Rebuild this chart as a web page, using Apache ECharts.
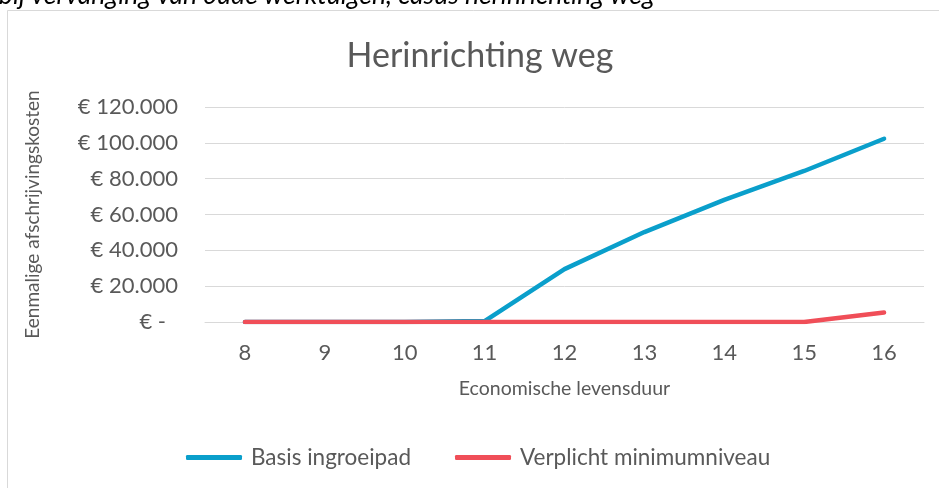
<!DOCTYPE html>
<html><head><meta charset="utf-8">
<script src="https://cdn.jsdelivr.net/npm/echarts@6/dist/echarts.min.js"></script>
<style>html,body{margin:0;padding:0;background:#fff}#c{width:939px;height:488px}</style>
</head><body><div id="c"></div>
<script>
const categories = ['8','9','10','11','12','13','14','15','16'];
const basisIngroeipad = [0, 0, 0, 500, 29500, 50200, 68200, 84300, 102300];
const verplichtMinimum = [0, 0, 0, 0, 0, 0, 0, 0, 5300];
const yTicks = [0, 20000, 40000, 60000, 80000, 100000, 120000];

const FONT = 'Lato, "Open Sans", sans-serif';
const chart = echarts.init(document.getElementById('c'));
function fmt(v){ if(v===0) return '{z|€ -}'; return '€ ' + v.toLocaleString('de-DE'); }
chart.setOption({
  animation:false,
  backgroundColor:'#fff',
  textStyle:{fontFamily:FONT},
  graphic:[
    {type:'rect', shape:{x:7.5,y:10.5,width:1000,height:1000}, style:{fill:'none',stroke:'#d9d9d9',lineWidth:1}, z:-1},
    {type:'text', left:-1, top:-18, style:{text:'bij vervanging van oude werktuigen, casus herinrichting weg', font:'italic 26.5px '+FONT, fill:'#000'}}
  ],
  title:{text:'Herinrichting weg', left:475, textAlign:'center', top:34, textStyle:{fontSize:34, fontWeight:'normal', color:'#595959', fontFamily:FONT}},
  legend:{top:446, left:186, padding:0, itemWidth:56, itemHeight:5, itemGap:44, icon:'roundRect',
    textStyle:{fontSize:22.5, color:'#595959', fontFamily:FONT, padding:[0,0,0,4]}, data:['Basis ingroeipad','Verplicht minimumniveau']},
  grid:{left:205, right:15, top:107, bottom:166},
  xAxis:{type:'category', data:categories, boundaryGap:true,
    name:'Economische levensduur', nameLocation:'middle', nameGap:57,
    nameTextStyle:{fontSize:19.5, color:'#595959'},
    axisLine:{show:true, lineStyle:{color:'#d9d9d9'}}, axisTick:{show:false},
    axisLabel:{fontSize:22, color:'#595959', margin:20}},
  yAxis:{type:'value', min:0, max:120000, interval:20000,
    name:'Eenmalige afschrijvingskosten', nameLocation:'middle', nameGap:163,
    nameTextStyle:{fontSize:19, color:'#595959'},
    axisLine:{show:false}, axisTick:{show:false},
    splitLine:{lineStyle:{color:'#d9d9d9', width:1}},
    axisLabel:{fontSize:22, color:'#595959', margin:27, formatter:fmt,
      rich:{z:{fontSize:22, color:'#595959', fontFamily:FONT, padding:[0,12,0,0]}}}},
  series:[
    {name:'Basis ingroeipad', type:'line', data:basisIngroeipad, symbol:'none', lineStyle:{width:4.5, color:'#0a9fcb', cap:'round'}, itemStyle:{color:'#0a9fcb'}},
    {name:'Verplicht minimumniveau', type:'line', data:verplichtMinimum, symbol:'none', lineStyle:{width:4.5, color:'#f04e58', cap:'round'}, itemStyle:{color:'#f04e58'}}
  ]
});
</script></body></html>
